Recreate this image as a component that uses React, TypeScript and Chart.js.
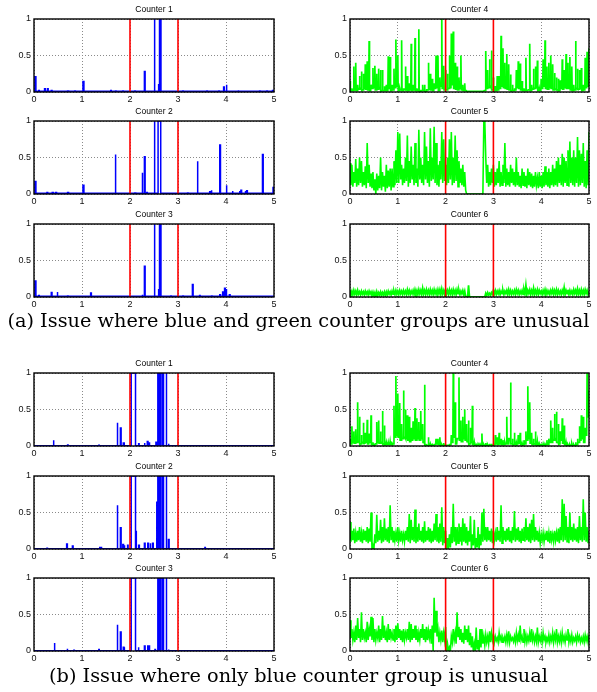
import { useEffect, useRef } from "react";
import { Chart, registerables } from "chart.js";

Chart.register(...registerables);

// ---- axes / markers ----
const X_TICKS = [0, 1, 2, 3, 4, 5];
const Y_TICKS = [0, 0.5, 1];
const EVENT_MARKS = [2, 3];
const SAMPLE_STEP = 0.04; // green counters: peaks at k*step, lows in between

// ---- blue counters: [time, height, duration] ----
const blueA1: number[][] = [
  [0.02, 0.21, 0.02], [0.1, 0.02, 0.01], [0.22, 0.045, 0.015], [0.28, 0.045, 0.015], [0.36, 0.02, 0.015],
  [0.5, 0.012, 0.01], [0.7, 0.015, 0.02], [0.85, 0.012, 0.01], [1.02, 0.145, 0.02], [1.4, 0.015, 0.01],
  [1.6, 0.02, 0.01], [1.7, 0.015, 0.01], [1.85, 0.012, 0.01], [2.1, 0.015, 0.01], [2.3, 0.28, 0.015],
  [2.36, 0.02, 0.01], [2.5, 1, 0.02], [2.59, 0.11, 0.01], [2.615, 1, 0.03], [3.1, 0.015, 0.01],
  [3.3, 0.015, 0.01], [3.5, 0.02, 0.01], [3.6, 0.015, 0.01], [3.75, 0.02, 0.01], [3.85, 0.015, 0.01],
  [3.95, 0.07, 0.015], [4.0, 0.1, 0.02], [4.25, 0.025, 0.015], [4.4, 0.015, 0.01], [4.55, 0.02, 0.01],
  [4.7, 0.015, 0.01], [4.85, 0.015, 0.01], [4.97, 0.02, 0.01],
];
const blueA2: number[][] = [
  [0.02, 0.17, 0.02], [0.27, 0.02, 0.015], [0.38, 0.02, 0.02], [0.45, 0.02, 0.02], [0.7, 0.02, 0.02],
  [1.02, 0.12, 0.02], [1.3, 0.012, 0.01], [1.5, 0.012, 0.01], [1.69, 0.54, 0.015], [1.8, 0.02, 0.01],
  [2.1, 0.015, 0.02], [2.25, 0.29, 0.015], [2.3, 0.51, 0.015], [2.35, 0.02, 0.01], [2.5, 1, 0.02],
  [2.585, 1, 0.055], [2.82, 0.02, 0.01], [3.0, 0.015, 0.01], [3.2, 0.015, 0.01], [3.4, 0.45, 0.015],
  [3.48, 0.02, 0.015], [3.66, 0.03, 0.01], [3.69, 0.05, 0.015], [3.87, 0.67, 0.015], [4.0, 0.12, 0.02],
  [4.13, 0.04, 0.015], [4.28, 0.04, 0.01], [4.31, 0.05, 0.015], [4.4, 0.04, 0.01], [4.43, 0.045, 0.015],
  [4.63, 0.02, 0.01], [4.76, 0.54, 0.015], [4.84, 0.02, 0.01], [4.98, 0.09, 0.02],
];
const blueA3: number[][] = [
  [0.02, 0.22, 0.02], [0.1, 0.02, 0.01], [0.36, 0.06, 0.015], [0.48, 0.07, 0.015], [0.7, 0.015, 0.01],
  [1.0, 0.02, 0.01], [1.18, 0.055, 0.015], [1.5, 0.015, 0.01], [1.9, 0.015, 0.01], [2.25, 0.03, 0.015],
  [2.3, 0.42, 0.015], [2.5, 1, 0.02], [2.59, 0.11, 0.01], [2.615, 1, 0.03], [2.85, 0.015, 0.01],
  [3.1, 0.015, 0.01], [3.3, 0.17, 0.015], [3.45, 0.02, 0.01], [3.7, 0.015, 0.01], [3.87, 0.03, 0.015],
  [3.93, 0.07, 0.015], [3.97, 0.12, 0.015], [4.0, 0.11, 0.015], [4.07, 0.03, 0.015], [4.5, 0.015, 0.01],
  [4.8, 0.015, 0.01],
];
const blueB1: number[][] = [
  [0.4, 0.08, 0.015], [0.7, 0.015, 0.01], [1.35, 0.01, 0.01], [1.73, 0.32, 0.015], [1.8, 0.245, 0.015],
  [1.86, 0.04, 0.02], [2.025, 1, 0.09], [2.18, 0.03, 0.01], [2.3, 0.04, 0.01], [2.36, 0.06, 0.015],
  [2.4, 0.05, 0.01], [2.54, 0.05, 0.01], [2.58, 1, 0.03], [2.625, 0.7, 0.005], [2.645, 1, 0.025],
  [2.695, 1, 0.005], [2.75, 1, 0.015], [2.8, 0.03, 0.01], [3.82, 0.01, 0.01],
];
const blueB2: number[][] = [
  [0.27, 0.01, 0.01], [0.68, 0.07, 0.015], [0.8, 0.04, 0.015], [1.37, 0.02, 0.01], [1.4, 0.03, 0.01],
  [1.73, 0.6, 0.015], [1.8, 0.29, 0.015], [1.85, 0.06, 0.015], [1.88, 0.05, 0.01], [1.95, 0.05, 0.01],
  [2.025, 1, 0.09], [2.125, 0.25, 0.01], [2.18, 0.05, 0.015], [2.3, 0.08, 0.015], [2.37, 0.08, 0.015],
  [2.42, 0.08, 0.01], [2.47, 0.08, 0.015], [2.55, 0.65, 0.012], [2.58, 1, 0.03], [2.625, 0.8, 0.005],
  [2.645, 1, 0.025], [2.695, 1, 0.005], [2.75, 1, 0.015], [2.8, 0.13, 0.015], [3.56, 0.02, 0.01],
  [4.4, 0.01, 0.01], [4.8, 0.01, 0.01],
];
const blueB3: number[][] = [
  [0.42, 0.11, 0.015], [0.69, 0.03, 0.01], [0.83, 0.01, 0.01], [1.35, 0.02, 0.01], [1.4, 0.01, 0.01],
  [1.73, 0.36, 0.015], [1.8, 0.26, 0.015], [1.86, 0.05, 0.015], [1.88, 0.05, 0.01], [2.025, 1, 0.09],
  [2.17, 0.05, 0.015], [2.3, 0.07, 0.015], [2.37, 0.07, 0.015], [2.4, 0.08, 0.01], [2.52, 0.02, 0.01],
  [2.58, 1, 0.03], [2.625, 0.75, 0.005], [2.645, 1, 0.025], [2.695, 1, 0.005], [2.75, 1, 0.015],
  [2.8, 0.02, 0.01], [3.82, 0.01, 0.01],
];
const BLUE_BASE_A = 0.01;
const BLUE_BASE_B = 0.004;

// ---- green counters ----
const greenA4Peaks = [
  0.15, 0.05, 0.35, 0.4, 0.1, 0.22, 0.28, 0.25, 0.38, 0.42,
  0.7, 0.1, 0.33, 0.36, 0.25, 0.32, 0.3, 0.3, 0.08, 0.1,
  0.49, 0.48, 0.1, 0.32, 0.72, 0.5, 0.05, 0.71, 0.05, 0.35,
  0.22, 0.12, 0.66, 0.1, 0.74, 0.05, 0.86, 0.02, 0.1, 0.1,
  0.02, 0.4, 0.25, 0.18, 0.12, 0.5, 0.5, 0.2, 1.0, 0.36,
  0.3, 0.25, 0.5, 0.8, 0.83, 0.4, 0.35, 0.2, 0.5, 0.1,
  0.12, 0.01, 0.01, 0.01, 0.01, 0.01, 0.01, 0.01, 0.01, 0.01,
  0.01, 0.56, 0.3, 0.45, 0.57, 0.2, 0.08, 0.22, 0.22, 0.77,
  0.6, 0.4, 0.52, 0.38, 0.24, 0.1, 0.05, 0.3, 0.42, 0.39,
  0.15, 0.05, 0.47, 0.02, 0.66, 0.1, 0.32, 0.35, 0.43, 0.05,
  0.18, 0.45, 0.71, 0.35, 0.4, 0.5, 0.38, 0.26, 0.2, 0.18,
  0.16, 0.45, 0.3, 0.52, 0.4, 0.48, 0.35, 0.1, 0.7, 0.32,
  0.3, 0.33, 0.1, 0.47, 0.55, 0.6,
];
const greenA4Lows = [
  0.02, 0.02, 0.03, 0.02, 0.04, 0.05, 0.03, 0.05, 0.04, 0.03,
  0.02, 0.05, 0.06, 0.03, 0.04, 0.05, 0.02, 0.02, 0.02, 0.02,
  0.05, 0.02, 0.03, 0.06, 0.08, 0.02, 0.03, 0.02, 0.04, 0.03,
  0.02, 0.03, 0.02, 0.03, 0.02, 0.02, 0.01, 0.02, 0.02, 0.01,
  0.03, 0.04, 0.03, 0.02, 0.05, 0.06, 0.02, 0.08, 0.05, 0.03,
  0.03, 0.05, 0.06, 0.1, 0.05, 0.04, 0.03, 0.05, 0.03, 0.02,
  0.02, 0.01, 0.01, 0.01, 0.01, 0.01, 0.01, 0.01, 0.01, 0.01,
  0.02, 0.05, 0.06, 0.08, 0.03, 0.02, 0.02, 0.03, 0.05, 0.08,
  0.06, 0.05, 0.04, 0.03, 0.02, 0.02, 0.03, 0.06, 0.05, 0.03,
  0.02, 0.02, 0.02, 0.03, 0.02, 0.04, 0.05, 0.06, 0.02, 0.02,
  0.05, 0.08, 0.05, 0.04, 0.06, 0.05, 0.03, 0.04, 0.03, 0.02,
  0.05, 0.04, 0.06, 0.05, 0.05, 0.03, 0.02, 0.03, 0.05, 0.04,
  0.05, 0.02, 0.03, 0.06, 0.08,
];
const greenA5Peaks = [
  0.42, 0.4, 0.3, 0.48, 0.35, 0.5, 0.45, 0.3, 0.38, 0.7, 0.4, 0.28, 0.3,
  0.2, 0.28, 0.25, 0.5, 0.3, 0.25, 0.4, 0.32, 0.35,
  0.35, 0.45, 0.6,
  0.85, 0.83, 0.4, 0.35, 0.5, 0.8, 0.45, 0.65, 0.4, 0.7, 0.35, 0.88, 0.5, 0.4, 0.85, 0.65, 0.45, 0.9,
  0.5, 0.92, 0.7, 0.4, 0.45, 0.85, 0.75, 0.4, 0.5, 0.75, 0.85, 0.5, 0.8, 0.6, 0.45, 0.35, 0.4, 0.3,
  0, 0, 0, 0, 0, 0, 0, 0, 0,
  1.0,
  0.5, 0.4, 0.3, 0.35, 0.4, 0.3, 0.35, 0.45, 0.3, 0.4, 0.7, 0.35, 0.3, 0.4, 0.35, 0.3, 0.5, 0.3,
  0.25, 0.35, 0.3, 0.25, 0.35, 0.3, 0.28, 0.25, 0.3, 0.22, 0.3, 0.25, 0.3, 0.38, 0.3, 0.35, 0.3,
  0.4, 0.35, 0.45, 0.5, 0.4, 0.55, 0.5, 0.45, 0.6, 0.72, 0.5, 0.6, 0.5, 0.78, 0.6, 0.55, 0.7,
  0.45, 0.6, 0.85,
];
const greenA5Lows = [
  0.12, 0.1, 0.15, 0.1, 0.12, 0.15, 0.1, 0.12, 0.08, 0.15, 0.1, 0.08, 0.05,
  0.0, 0.05, 0.08, 0.05, 0.1, 0.03, 0.08, 0.1, 0.05,
  0.1, 0.12, 0.15,
  0.15, 0.2, 0.12, 0.15, 0.18, 0.1, 0.15, 0.2, 0.12, 0.15, 0.1, 0.2, 0.15, 0.12, 0.2, 0.15, 0.1, 0.18,
  0.2, 0.15, 0.12, 0.1, 0.2, 0.15, 0.18, 0.12, 0.15, 0.2, 0.12, 0.15, 0.18, 0.1, 0.15, 0.12, 0.1, 0.05,
  0, 0, 0, 0, 0, 0, 0, 0, 0,
  1.0,
  0.15, 0.1, 0.12, 0.15, 0.1, 0.12, 0.15, 0.1, 0.12, 0.15,
  0.1, 0.12, 0.1, 0.15, 0.12, 0.1, 0.12, 0.1, 0.08, 0.12,
  0.1, 0.08, 0.12, 0.1, 0.08, 0.1, 0.12, 0.08, 0.1, 0.08,
  0.1, 0.12, 0.1, 0.08, 0.12, 0.1, 0.12, 0.1, 0.15, 0.12,
  0.1, 0.15, 0.12, 0.1, 0.15, 0.12, 0.1, 0.15, 0.1, 0.12,
  0.15, 0.1, 0.08, 0.12,
];
const greenA6Peaks = [
  0.09, 0.08, 0.09, 0.08, 0.09, 0.07, 0.08, 0.07, 0.08, 0.07, 0.08, 0.07, 0.07,
  0.06, 0.07, 0.06, 0.07, 0.06, 0.07, 0.07, 0.08, 0.07, 0.08, 0.08, 0.09,
  0.08, 0.09, 0.08, 0.09, 0.08, 0.1, 0.09, 0.08, 0.09, 0.1, 0.09, 0.1, 0.09, 0.12, 0.09, 0.1, 0.09,
  0.1, 0.09, 0.1, 0.09, 0.1, 0.1, 0.11,
  0.09, 0.1, 0.09, 0.1, 0.09, 0.1, 0.09, 0.1, 0.09, 0.08, 0.09, 0.08,
  0, 0.16, 0, 0, 0, 0, 0, 0, 0, 0,
  0.05, 0.06, 0.05, 0.06, 0.09,
  0.09, 0.08, 0.09, 0.08, 0.09, 0.08, 0.09, 0.1, 0.09, 0.08,
  0.09, 0.1, 0.09, 0.08, 0.09, 0.1, 0.16, 0.09, 0.1, 0.09,
  0.12, 0.09, 0.1, 0.09, 0.08, 0.09, 0.1, 0.09, 0.08, 0.09,
  0.1, 0.09, 0.1, 0.09, 0.08, 0.09, 0.13, 0.09, 0.1, 0.09,
  0.08, 0.1, 0.09, 0.11, 0.09, 0.1, 0.09, 0.1, 0.09, 0.08,
];
const greenA6Lows = [
  0.04, 0.03, 0.04, 0.03, 0.04, 0.03, 0.04, 0.03, 0.04, 0.03, 0.04, 0.03, 0.02,
  0.0, 0.02, 0.03, 0.02, 0.03, 0.02, 0.03, 0.04, 0.03, 0.04, 0.035, 0.04,
  0.035, 0.045, 0.035, 0.045, 0.035, 0.045, 0.035, 0.045, 0.035, 0.045,
  0.035, 0.045, 0.035, 0.045, 0.035, 0.045, 0.035, 0.045, 0.035, 0.045,
  0.035, 0.045, 0.035, 0.045, 0.035, 0.045, 0.035, 0.045, 0.035, 0.045,
  0.035, 0.045, 0.035, 0.045, 0.035, 0.0,
  0, 0, 0, 0, 0, 0, 0, 0, 0,
  0.0,
  0.02, 0.03, 0.02, 0.04,
  0.045, 0.035, 0.045, 0.035, 0.045, 0.035, 0.05, 0.035, 0.045, 0.035,
  0.045, 0.035, 0.05, 0.035, 0.045, 0.035, 0.045, 0.035, 0.05, 0.035,
  0.045, 0.035, 0.045, 0.035, 0.05, 0.035, 0.045, 0.035, 0.045, 0.035,
  0.05, 0.035, 0.045, 0.035, 0.045, 0.035, 0.05, 0.035, 0.045, 0.035,
  0.045, 0.035, 0.05, 0.035, 0.045, 0.035, 0.045, 0.035, 0.05, 0.035,
];
const greenB4Peaks = [
  0.1, 0.27, 0.2, 0.23, 0.6, 0.4, 0.15, 0.32, 0.18, 0.36,
  0.17, 0.42, 0.05, 0.02, 0.33, 0.35, 0.2, 0.48, 0.28, 0.05,
  0.05, 0.06, 0.04, 0.55, 0.96, 0.72, 0.59, 0.3, 0.76, 0.5,
  0.42, 0.4, 0.25, 0.34, 0.52, 0.38, 0.33, 0.48, 0.3, 0.84,
  0.02, 0.12, 0.03, 0.02, 0.02, 0.1, 0.1, 0.12, 0.02, 0.04,
  0.01, 0.01, 0.02, 0.15, 1.0, 0.6, 0.1, 0.94, 0.35, 0.4,
  0.5, 0.3, 0.35, 0.25, 0.55, 0.05, 0.02, 0.03, 0.03, 0.17,
  0.02, 0.04, 0.02, 0.03, 0.03, 0.02, 0.15, 0.12, 0.18, 0.1,
  0.08, 0.05, 0.4, 0.1, 0.87, 0.1, 0.18, 0.05, 0.15, 0.18,
  0.04, 0.08, 0.2, 0.82, 0.6, 0.18, 0.1, 0.2, 0.06, 0.03,
  0.02, 0.03, 0.03, 0.08, 0.1, 0.35, 0.25, 0.44, 0.47, 0.3,
  0.2, 0.38, 0.28, 0.05, 0.02, 0.02, 0.03, 0.02, 0.05, 0.1,
  0.27, 0.42, 0.4, 0.25, 1.0, 0.76,
];
const greenB4Lows = [
  0.03, 0.05, 0.04, 0.05, 0.06, 0.03, 0.05, 0.04, 0.05, 0.03,
  0.05, 0.02, 0.01, 0.03, 0.05, 0.04, 0.05, 0.03, 0.02, 0.02,
  0.02, 0.02, 0.03, 0.12, 0.15, 0.12, 0.08, 0.1, 0.12, 0.1,
  0.08, 0.06, 0.08, 0.1, 0.08, 0.1, 0.08, 0.1, 0.05, 0.02,
  0.01, 0.01, 0.01, 0.01, 0.02, 0.03, 0.02, 0.01, 0.01, 0.01,
  0.01, 0.01, 0.02, 0.05, 0.12, 0.03, 0.1, 0.08, 0.06, 0.1,
  0.08, 0.06, 0.03, 0.05, 0.02, 0.01, 0.01, 0.02, 0.02, 0.01,
  0.01, 0.01, 0.01, 0.01, 0.01, 0.02, 0.03, 0.02, 0.03, 0.02,
  0.02, 0.03, 0.03, 0.1, 0.03, 0.02, 0.02, 0.03, 0.04, 0.02,
  0.02, 0.03, 0.08, 0.1, 0.04, 0.02, 0.03, 0.02, 0.01, 0.01,
  0.01, 0.01, 0.02, 0.02, 0.05, 0.05, 0.08, 0.1, 0.05, 0.03,
  0.08, 0.04, 0.02, 0.01, 0.01, 0.01, 0.01, 0.01, 0.02, 0.05,
  0.08, 0.1, 0.05, 0.15, 0.4,
];
const greenB5Peaks = [
  0.37, 0.25, 0.28, 0.22, 0.25, 0.3, 0.22, 0.27, 0.25, 0.3,
  0.28, 0.5, 0.05, 0.2, 0.47, 0.25, 0.4, 0.3, 0.42, 0.28,
  0.3, 0.6, 0.3, 0.25, 0.22, 0.3, 0.22, 0.25, 0.2, 0.25,
  0.3, 0.48, 0.4, 0.3, 0.54, 0.3, 0.35, 0.25, 0.3, 0.38,
  0.25, 0.3, 0.28, 0.25, 0.35, 0.48, 0.3, 0.35, 0.57, 0.3,
  0.25, 0.15, 0.2, 0.3, 0.62, 0.3, 0.3, 0.35, 0.3, 0.42,
  0.35, 0.3, 0.25, 0.45, 0.2, 0.4, 0.15, 0.3, 0.2, 0.5,
  0.55, 0.3, 0.3, 0.25, 0.28, 0.25, 0.22, 0.3, 0.25, 0.6,
  0.3, 0.25, 0.28, 0.3, 0.25, 0.3, 0.52, 0.28, 0.3, 0.25,
  0.28, 0.3, 0.42, 0.3, 0.35, 0.4, 0.48, 0.3, 0.25, 0.22,
  0.2, 0.22, 0.2, 0.25, 0.22, 0.25, 0.2, 0.25, 0.22, 0.28,
  0.3, 0.68, 0.62, 0.45, 0.3, 0.5, 0.3, 0.35, 0.28, 0.3,
  0.45, 0.3, 0.68, 0.5, 0.3, 0.25,
];
const greenB5Lows = [
  0.1, 0.12, 0.08, 0.1, 0.12, 0.1, 0.08, 0.12, 0.1, 0.08, 0.1,
  0.0, 0.0,
  0.08, 0.1, 0.12, 0.08, 0.1, 0.12, 0.1, 0.08, 0.12, 0.1,
  0.12, 0.1, 0.12, 0.1, 0.12, 0.1, 0.12, 0.1, 0.08, 0.12,
  0.1, 0.08, 0.1, 0.12, 0.1, 0.08, 0.1, 0.12, 0.1, 0.08,
  0.1, 0.12, 0.1, 0.08, 0.1, 0.05, 0.08,
  0.0, 0.0, 0.02,
  0.08, 0.1, 0.05, 0.08, 0.1, 0.05, 0.1, 0.08, 0.05, 0.1,
  0.0, 0.05, 0.0, 0.02, 0.0, 0.05,
  0.1, 0.12, 0.1, 0.12, 0.1, 0.08, 0.12, 0.1,
  0.12, 0.1, 0.08, 0.12, 0.1, 0.12, 0.1, 0.08,
  0.12, 0.1, 0.12, 0.1, 0.08, 0.12, 0.1, 0.12,
  0.1, 0.08, 0.12, 0.1, 0.12, 0.1, 0.08, 0.12,
  0.1, 0.12, 0.1, 0.08, 0.12, 0.1, 0.12, 0.1,
  0.08, 0.12, 0.1, 0.12, 0.1, 0.08, 0.12, 0.1,
  0.12, 0.1, 0.08, 0.12, 0.1, 0.12, 0.1, 0.08,
];
const greenB6Peaks = [
  0.42, 0.3, 0.25, 0.35, 0.45, 0.3, 0.53, 0.3, 0.25, 0.4, 0.3, 0.47, 0.45,
  0.3, 0.25, 0.35, 0.3, 0.48, 0.35, 0.25, 0.37, 0.3, 0.25, 0.3, 0.35, 0.38,
  0.3, 0.28, 0.3, 0.25, 0.3, 0.4, 0.37, 0.3, 0.35, 0.3, 0.25, 0.3, 0.37, 0.3, 0.33, 0.28, 0.3,
  0.35, 0.73, 0.55, 0.3, 0.25, 0.28, 0.25, 0.33, 0.1, 0.05, 0.2, 0.3, 0.25, 0.53, 0.33, 0.3,
  0.25, 0.35, 0.3, 0.35, 0.25, 0.2, 0.1, 0.32, 0.15, 0.3, 0.3, 0.2, 0.22, 0.2, 0.27, 0.25, 0.22,
  0.2, 0.18, 0.25, 0.2, 0.18, 0.2, 0.22, 0.27, 0.2, 0.18,
  0.2, 0.25, 0.22, 0.35, 0.2, 0.3, 0.22, 0.2, 0.25, 0.3,
  0.22, 0.2, 0.32, 0.2, 0.22, 0.25, 0.2, 0.18, 0.22, 0.2,
  0.25, 0.22, 0.3, 0.2, 0.22, 0.25, 0.2, 0.22, 0.3, 0.2,
  0.22, 0.18, 0.2, 0.22, 0.2, 0.18, 0.2, 0.22, 0.2, 0.22,
];
const greenB6Lows = [
  0.18, 0.15, 0.12, 0.15, 0.18, 0.12, 0.15, 0.18, 0.12, 0.15,
  0.2, 0.15, 0.12, 0.15, 0.18, 0.12, 0.15, 0.18, 0.15, 0.12,
  0.15, 0.18, 0.15, 0.12, 0.15, 0.18, 0.15, 0.12, 0.15, 0.18,
  0.15, 0.12, 0.15, 0.18, 0.15, 0.12, 0.15, 0.18, 0.15, 0.12,
  0.15, 0.18, 0.1,
  0.0,
  0.25, 0.2, 0.12, 0.15, 0.12, 0.15,
  0.0, 0.0, 0.0,
  0.12, 0.15, 0.1, 0.2, 0.15, 0.12, 0.1, 0.15, 0.12, 0.08, 0.05,
  0.0, 0.0, 0.02, 0.0, 0.05,
  0.1, 0.08, 0.12, 0.1, 0.12, 0.15,
  0.12, 0.14, 0.12, 0.15, 0.12, 0.14, 0.12, 0.13, 0.12, 0.15,
  0.13, 0.12, 0.14, 0.12, 0.15, 0.12, 0.13, 0.12, 0.14, 0.12,
  0.15, 0.12, 0.13, 0.12, 0.14, 0.12, 0.15, 0.12, 0.13, 0.12,
  0.14, 0.12, 0.15, 0.12, 0.13, 0.12, 0.14, 0.12, 0.15, 0.12,
  0.13, 0.12, 0.14, 0.12, 0.15, 0.12, 0.13, 0.12, 0.14, 0.12,
];

const CAPTION_A = "(a) Issue where blue and green counter groups are unusual";
const CAPTION_B = "(b) Issue where only blue counter group is unusual";

// ---- layout ----
const COL_LEFT = [34, 350];
const COL_W = [240, 239];
const ROW_TOP = [19, 121, 224, 373, 476, 578];
const PLOT_H = 73;
const AXIS_W = 34;
const TITLE_H = 19;
const XAXIS_H = 14;
const PAD_R = 8;
const SANS = '"Liberation Sans", Arial, Helvetica, sans-serif';
const BLUE = "#0000ff";
const GREEN = "#00ff00";
const RED = "#ff0000";

type Pt = { x: number; y: number };

function spikeSeries(spikes: number[][], base: number): Pt[] {
  const sorted = [...spikes].sort((a, b) => a[0] - b[0]);
  const pts: Pt[] = [{ x: 0, y: base }];
  for (const [x, h, w] of sorted) {
    pts.push({ x, y: base }, { x, y: h }, { x: x + w, y: h }, { x: x + w, y: base });
  }
  pts.push({ x: 5, y: base });
  return pts;
}

// band-like counters: peak and low alternate every half step
function zigzag(peaks: number[], lows: number[]): Pt[] {
  const pts: Pt[] = [];
  peaks.forEach((p, k) => {
    pts.push({ x: k * SAMPLE_STEP, y: p });
    if (k < lows.length && k < peaks.length - 1) pts.push({ x: k * SAMPLE_STEP + SAMPLE_STEP / 2, y: lows[k] });
  });
  return pts;
}

// bursty counters: narrow spikes rising from the low level between them
function stems(peaks: number[], lows: number[]): Pt[] {
  const d = SAMPLE_STEP * 0.2;
  const pts: Pt[] = [];
  peaks.forEach((p, k) => {
    const x = k * SAMPLE_STEP;
    if (k > 0 && k - 1 < lows.length) pts.push({ x: x - d, y: lows[k - 1] });
    pts.push({ x, y: p });
    if (k < lows.length && k < peaks.length - 1) pts.push({ x: x + d, y: lows[k] });
  });
  return pts;
}

const frameTitle = {
  id: "frameTitle",
  afterDraw(chart: any, _args: any, opts: any) {
    const { ctx, chartArea: a } = chart;
    ctx.save();
    ctx.strokeStyle = "#000";
    ctx.lineWidth = 1.4;
    ctx.strokeRect(a.left, a.top, a.right - a.left, a.bottom - a.top);
    ctx.fillStyle = "#000";
    ctx.font = `8.5px ${SANS}`;
    ctx.textAlign = "center";
    ctx.textBaseline = "middle";
    ctx.fillText(opts.text, (a.left + a.right) / 2, a.top - 9);
    ctx.restore();
  },
};

type Spec = { title: string; col: number; row: number; data: Pt[]; color: string; width: number };

function Subplot({ spec }: { spec: Spec }) {
  const ref = useRef<HTMLCanvasElement>(null);
  const cw = AXIS_W + COL_W[spec.col] + PAD_R;
  const ch = TITLE_H + PLOT_H + XAXIS_H;
  useEffect(() => {
    if (!ref.current) return;
    const marks = EVENT_MARKS.map((m) => ({
      data: [{ x: m, y: 0 }, { x: m, y: 1 }],
      borderColor: RED,
      borderWidth: 1.6,
      pointRadius: 0,
      order: 0,
    }));
    const chart = new Chart(ref.current, {
      type: "line",
      data: {
        datasets: [
          ...marks,
          {
            data: spec.data,
            borderColor: spec.color,
            borderWidth: spec.width,
            pointRadius: 0,
            order: 1,
            borderJoinStyle: "miter",
          },
        ] as any,
      },
      options: {
        animation: false,
        responsive: false,
        maintainAspectRatio: false,
        devicePixelRatio: 1,
        events: [],
        layout: { padding: { top: TITLE_H, right: PAD_R, left: 0, bottom: 0 } },
        plugins: {
          legend: { display: false },
          tooltip: { enabled: false },
          title: { display: false },
          frameTitle: { text: spec.title },
        } as any,
        scales: {
          x: {
            type: "linear",
            min: 0,
            max: 5,
            afterBuildTicks: (s: any) => {
              s.ticks = X_TICKS.map((v) => ({ value: v }));
            },
            afterFit: (s: any) => {
              s.height = XAXIS_H;
            },
            grid: { color: "#8a8a8a", lineWidth: 1, drawTicks: false },
            border: { display: false, dash: [1, 2] },
            ticks: {
              font: { size: 9, family: SANS },
              color: "#111",
              padding: 2,
              maxRotation: 0,
              autoSkip: false,
              callback: (v: any) => String(v),
            },
          },
          y: {
            type: "linear",
            min: 0,
            max: 1,
            afterBuildTicks: (s: any) => {
              s.ticks = Y_TICKS.map((v) => ({ value: v }));
            },
            afterFit: (s: any) => {
              s.width = AXIS_W;
            },
            grid: { color: "#8a8a8a", lineWidth: 1, drawTicks: false },
            border: { display: false, dash: [1, 2] },
            ticks: {
              font: { size: 9, family: SANS },
              color: "#111",
              padding: 3,
              autoSkip: false,
              callback: (v: any) => String(v),
            },
          },
        } as any,
      },
      plugins: [frameTitle as any],
    });
    return () => chart.destroy();
  }, [spec]);
  return (
    <canvas
      ref={ref}
      width={cw}
      height={ch}
      style={{
        position: "absolute",
        left: COL_LEFT[spec.col] - AXIS_W,
        top: ROW_TOP[spec.row] - TITLE_H,
        width: cw,
        height: ch,
      }}
    />
  );
}

const SPECS: Spec[] = [
  { title: "Counter 1", col: 0, row: 0, data: spikeSeries(blueA1, BLUE_BASE_A), color: BLUE, width: 1.5 },
  { title: "Counter 2", col: 0, row: 1, data: spikeSeries(blueA2, BLUE_BASE_A), color: BLUE, width: 1.5 },
  { title: "Counter 3", col: 0, row: 2, data: spikeSeries(blueA3, BLUE_BASE_A), color: BLUE, width: 1.5 },
  { title: "Counter 4", col: 1, row: 0, data: stems(greenA4Peaks, greenA4Lows), color: GREEN, width: 1.7 },
  { title: "Counter 5", col: 1, row: 1, data: zigzag(greenA5Peaks, greenA5Lows), color: GREEN, width: 1.6 },
  { title: "Counter 6", col: 1, row: 2, data: zigzag(greenA6Peaks, greenA6Lows), color: GREEN, width: 1.8 },
  { title: "Counter 1", col: 0, row: 3, data: spikeSeries(blueB1, BLUE_BASE_B), color: BLUE, width: 1.5 },
  { title: "Counter 2", col: 0, row: 4, data: spikeSeries(blueB2, BLUE_BASE_B), color: BLUE, width: 1.5 },
  { title: "Counter 3", col: 0, row: 5, data: spikeSeries(blueB3, BLUE_BASE_B), color: BLUE, width: 1.5 },
  { title: "Counter 4", col: 1, row: 3, data: stems(greenB4Peaks, greenB4Lows), color: GREEN, width: 1.7 },
  { title: "Counter 5", col: 1, row: 4, data: zigzag(greenB5Peaks, greenB5Lows), color: GREEN, width: 1.6 },
  { title: "Counter 6", col: 1, row: 5, data: zigzag(greenB6Peaks, greenB6Lows), color: GREEN, width: 1.6 },
];

const captionStyle = (top: number): any => ({
  position: "absolute",
  left: 0,
  top,
  width: 597,
  textAlign: "center",
  fontFamily: '"DejaVu Serif", serif',
  fontSize: 19.3,
  lineHeight: "22px",
  color: "#000",
  whiteSpace: "nowrap",
});

export default function App() {
  return (
    <div style={{ position: "absolute", left: 0, top: 0, width: 597, height: 692, background: "#fff", overflow: "hidden" }}>
      {SPECS.map((s, i) => (
        <Subplot key={i} spec={s} />
      ))}
      <div style={captionStyle(310)}>{CAPTION_A}</div>
      <div style={captionStyle(665)}>{CAPTION_B}</div>
    </div>
  );
}
